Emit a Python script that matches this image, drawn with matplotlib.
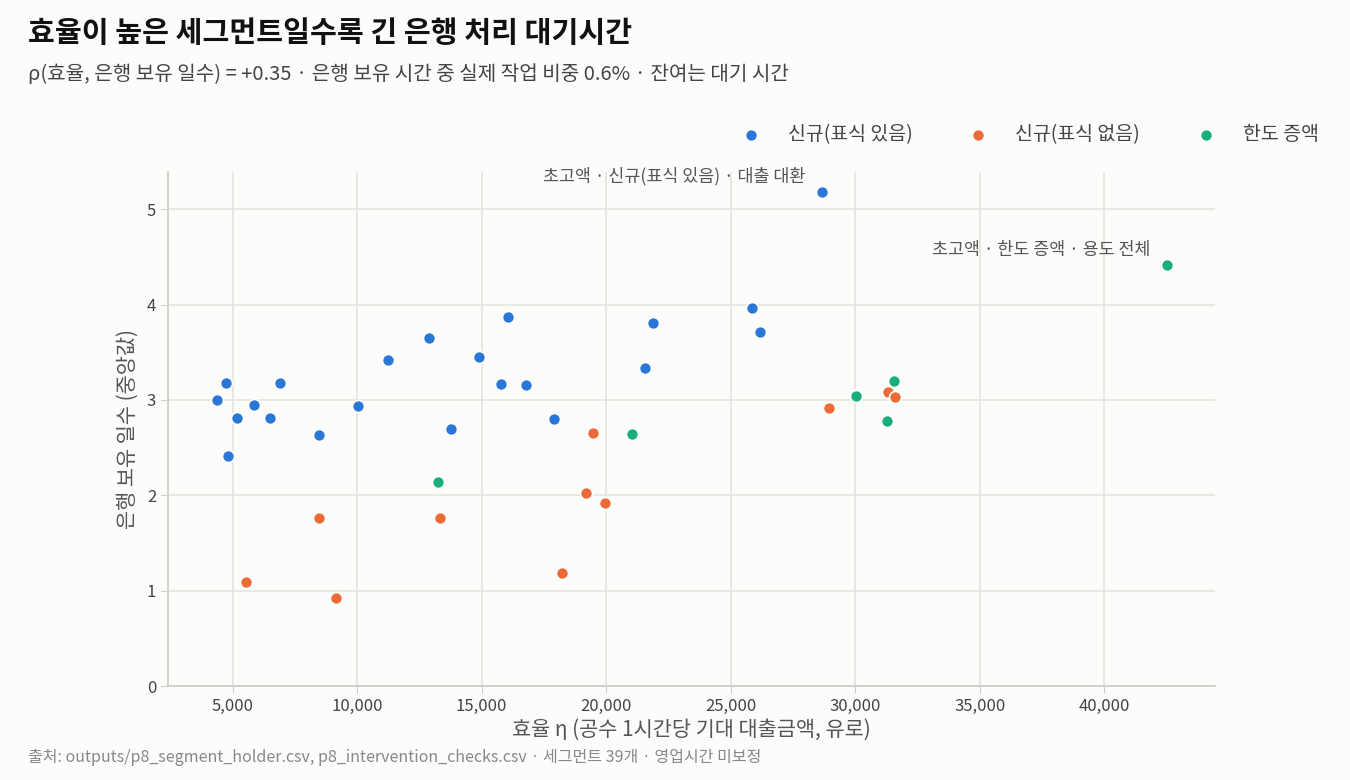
import matplotlib
matplotlib.use("Agg")
import matplotlib.pyplot as plt
from matplotlib.ticker import FuncFormatter

plt.rcParams['font.family'] = ['Noto Sans CJK KR', 'DejaVu Sans']

# segment values: efficiency (EUR / hour) and median bank holding days
new_marked_x = [4360, 4720, 4800, 5160, 5840, 6480, 6890, 8455, 10020, 11220, 12900,
                13750, 14910, 16040, 15760, 16760, 17920, 21540, 21860, 25870, 26190, 28680]
new_marked_y = [3.00, 3.18, 2.41, 2.81, 2.95, 2.81, 3.18, 2.63, 2.94, 3.42, 3.65,
                2.69, 3.45, 3.87, 3.17, 3.16, 2.80, 3.33, 3.81, 3.96, 3.71, 5.18]

new_unmarked_x = [5520, 8455, 9140, 13310, 18210, 19170, 19490, 19970, 28960, 31330, 31610]
new_unmarked_y = [1.09, 1.76, 0.92, 1.76, 1.18, 2.02, 2.65, 1.92, 2.92, 3.08, 3.03]

limit_up_x = [13230, 21020, 30050, 31290, 31570, 42530]
limit_up_y = [2.14, 2.64, 3.04, 2.78, 3.20, 4.41]

labels = ['신규(표식 있음)', '신규(표식 없음)', '한도 증액']
colors = ['#2a77d8', '#ec6a35', '#1aae7a']

annot_text = ['초고액 · 신규(표식 있음) · 대출 대환', '초고액 · 한도 증액 · 용도 전체']
annot_pts = [(new_marked_x[21], new_marked_y[21]), (limit_up_x[5], limit_up_y[5])]

bg = '#fcfcfa'
fig = plt.figure(figsize=(13.5, 7.8), dpi=100, facecolor=bg)
ax = fig.add_axes([0.1244, 0.1205, 0.7756, 0.659])
ax.set_facecolor(bg)

series = [(new_marked_x, new_marked_y), (new_unmarked_x, new_unmarked_y), (limit_up_x, limit_up_y)]
for (xs, ys), lab, c in zip(series, labels, colors):
    ax.scatter(xs, ys, s=75, color=c, edgecolor='white', linewidth=1.2, label=lab, zorder=3)

for txt, (px, py) in zip(annot_text, annot_pts):
    ax.annotate(txt, (px, py), xytext=(-12, 5), textcoords='offset points',
                ha='right', va='bottom', fontsize=12.5, color='#555555')

ax.set_xlim(2400, 44450)
ax.set_ylim(0, 5.39)
ax.set_xticks(range(5000, 40001, 5000))
ax.set_yticks(range(0, 6))
ax.xaxis.set_major_formatter(FuncFormatter(lambda v, p: f'{int(v):,}'))
ax.grid(True, color='#e4e4dd', linewidth=1.2, zorder=0)
ax.set_axisbelow(True)
for s in ['top', 'right']:
    ax.spines[s].set_visible(False)
for s in ['left', 'bottom']:
    ax.spines[s].set_color('#cfcfc6')
    ax.spines[s].set_linewidth(1.3)
ax.tick_params(colors='#cfcfc6', labelcolor='#444444', labelsize=12, length=5)

ax.set_xlabel('효율 η (공수 1시간당 기대 대출금액, 유로)', fontsize=15, color='#555555', labelpad=3)
ax.set_ylabel('은행 보유 일수 (중앙값)', fontsize=15, color='#555555', labelpad=6)

fig.legend(loc='center right', bbox_to_anchor=(0.99, 0.827), ncol=3, frameon=False,
           fontsize=14, handletextpad=0.9, columnspacing=2.4, labelcolor='#444444')

fig.text(28 / 1350, 1 - 33 / 780, '효율이 높은 세그먼트일수록 긴 은행 처리 대기시간',
         fontsize=21, fontweight='bold', color='#111111', va='center')
fig.text(28 / 1350, 1 - 75 / 780,
         'ρ(효율, 은행 보유 일수) = +0.35 · 은행 보유 시간 중 실제 작업 비중 0.6% · 잔여는 대기 시간',
         fontsize=14.5, color='#444444', va='center')
fig.text(28 / 1350, 1 - 758 / 780,
         '출처: outputs/p8_segment_holder.csv, p8_intervention_checks.csv · 세그먼트 39개 · 영업시간 미보정',
         fontsize=11.5, color='#888888', va='center')

fig.savefig('out.png', dpi=100, facecolor=bg)
